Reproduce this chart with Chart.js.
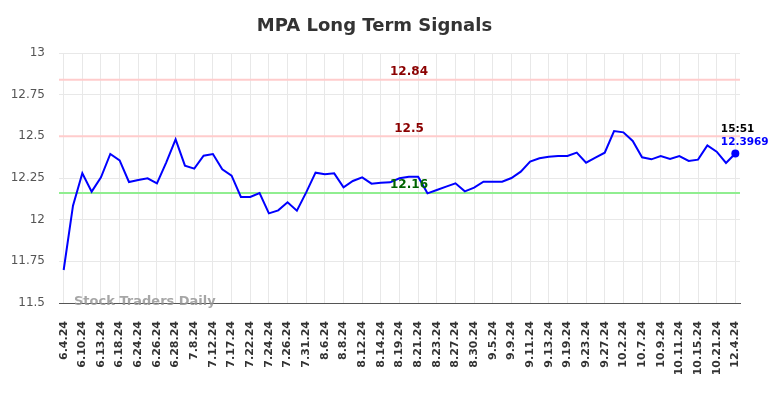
<!DOCTYPE html>
<html>
<head>
<meta charset="utf-8">
<script src="https://cdn.jsdelivr.net/npm/chart.js@4"></script>
<style>
  html, body { margin: 0; padding: 0; background: #fff; }
  #wrap { width: 784px; height: 398px; }
</style>
</head>
<body>
<div id="wrap"><canvas id="c" width="784" height="398"></canvas></div>
<script>
const tickLabels = ["6.4.24","6.10.24","6.13.24","6.18.24","6.24.24","6.26.24","6.28.24","7.8.24","7.12.24","7.17.24","7.22.24","7.24.24","7.26.24","7.31.24","8.6.24","8.8.24","8.12.24","8.14.24","8.19.24","8.21.24","8.23.24","8.27.24","8.30.24","9.5.24","9.9.24","9.11.24","9.13.24","9.19.24","9.23.24","9.27.24","10.2.24","10.7.24","10.9.24","10.11.24","10.15.24","10.21.24","12.4.24"];
const prices = [11.698,12.084,12.278,12.168,12.254,12.394,12.356,12.226,12.238,12.248,12.218,12.344,12.482,12.324,12.306,12.384,12.394,12.302,12.264,12.136,12.136,12.16,12.038,12.056,12.104,12.054,12.164,12.282,12.272,12.278,12.194,12.232,12.254,12.216,12.222,12.224,12.248,12.258,12.258,12.158,12.178,12.198,12.218,12.17,12.192,12.228,12.228,12.228,12.25,12.288,12.348,12.368,12.378,12.382,12.382,12.402,12.342,12.372,12.402,12.532,12.524,12.472,12.374,12.362,12.382,12.364,12.382,12.352,12.36,12.446,12.408,12.34,12.3969];
const resistanceLevels = [12.84, 12.5];
const supportLevels = [12.16];
const lastTime = "15:51";
const yTicks = [11.5, 11.75, 12, 12.25, 12.5, 12.75, 13];

const labels = prices.map((_, i) => (i % 2 === 0 ? tickLabels[i / 2] : ""));
const FONT = "'DejaVu Sans', sans-serif";

const overlay = {
  id: 'overlay',
  beforeDatasetsDraw(chart) {
    const { ctx, chartArea: a, scales: { y } } = chart;
    ctx.save();
    ctx.lineWidth = 2;
    resistanceLevels.forEach(v => {
      const py = y.getPixelForValue(v);
      ctx.strokeStyle = '#ffcccc';
      ctx.beginPath(); ctx.moveTo(a.left, py); ctx.lineTo(a.right, py); ctx.stroke();
    });
    supportLevels.forEach(v => {
      const py = y.getPixelForValue(v);
      ctx.strokeStyle = '#90ee90';
      ctx.beginPath(); ctx.moveTo(a.left, py); ctx.lineTo(a.right, py); ctx.stroke();
    });
    ctx.restore();
  },
  afterDatasetsDraw(chart) {
    const { ctx, chartArea: a, scales: { x, y } } = chart;
    ctx.save();
    ctx.font = "bold 12px " + FONT;
    ctx.textAlign = 'center';
    ctx.textBaseline = 'middle';
    const cx = 409;
    resistanceLevels.forEach(v => {
      ctx.fillStyle = '#8b0000';
      ctx.fillText(String(v), cx, y.getPixelForValue(v) - 7.5);
    });
    supportLevels.forEach(v => {
      ctx.fillStyle = '#006400';
      ctx.fillText(String(v), cx, y.getPixelForValue(v) - 8);
    });
    // last point annotation
    const li = prices.length - 1;
    const px = x.getPixelForValue(li);
    const py = y.getPixelForValue(prices[li]);
    ctx.textAlign = 'left';
    ctx.font = "bold 10.5px " + FONT;
    ctx.fillStyle = '#000';
    ctx.fillText(lastTime, px - 14.5, py - 24);
    ctx.fillStyle = '#0000ff';
    ctx.fillText(String(prices[li]), px - 14.5, py - 11);
    // watermark
    ctx.font = "bold 13px " + FONT;
    ctx.fillStyle = 'rgba(150,150,150,0.85)';
    ctx.textAlign = 'left';
    ctx.fillText('Stock Traders Daily', 74, a.bottom - 1);
    // title
    ctx.font = "bold 18px " + FONT;
    ctx.fillStyle = '#333';
    ctx.textAlign = 'center';
    ctx.fillText('MPA Long Term Signals', 374.5, 26.5);
    ctx.restore();
  }
};

new Chart(document.getElementById('c'), {
  type: 'line',
  data: {
    labels: labels,
    datasets: [{
      data: prices,
      borderColor: '#0000ff',
      backgroundColor: '#0000ff',
      borderWidth: 2,
      tension: 0,
      fill: false,
      pointRadius: ctx => (ctx.dataIndex === prices.length - 1 ? 4 : 0),
      pointHoverRadius: 0,
      pointBackgroundColor: '#0000ff',
      pointBorderWidth: 0
    }]
  },
  options: {
    responsive: false,
    animation: false,
    devicePixelRatio: 1,
    layout: { padding: { top: 53, left: 11, right: 44, bottom: 0 } },
    plugins: { legend: { display: false }, title: { display: false }, tooltip: { enabled: false } },
    scales: {
      x: {
        type: 'category',
        offset: true,
        afterFit: s => { s.height = 95; },
        grid: {
          drawTicks: false,
          offset: false,
          color: c => (c.index % 2 === 0 ? '#e8e8e8' : 'rgba(0,0,0,0)'),
          lineWidth: 1
        },
        border: { display: true, color: '#555', width: 1 },
        ticks: {
          autoSkip: false,
          maxRotation: 90,
          minRotation: 90,
          padding: 18,
          color: '#333',
          font: { family: FONT, size: 11, weight: 'bold' }
        }
      },
      y: {
        min: 11.5,
        max: 13,
        afterFit: s => { s.width = 48; },
        afterBuildTicks: s => { s.ticks = yTicks.map(v => ({ value: v })); },
        grid: { drawTicks: false, color: '#e8e8e8', lineWidth: 1 },
        border: { display: false },
        ticks: {
          padding: 14,
          color: '#555',
          font: { family: FONT, size: 12 },
          callback: v => String(v)
        }
      }
    }
  },
  plugins: [overlay]
});
</script>
</body>
</html>
